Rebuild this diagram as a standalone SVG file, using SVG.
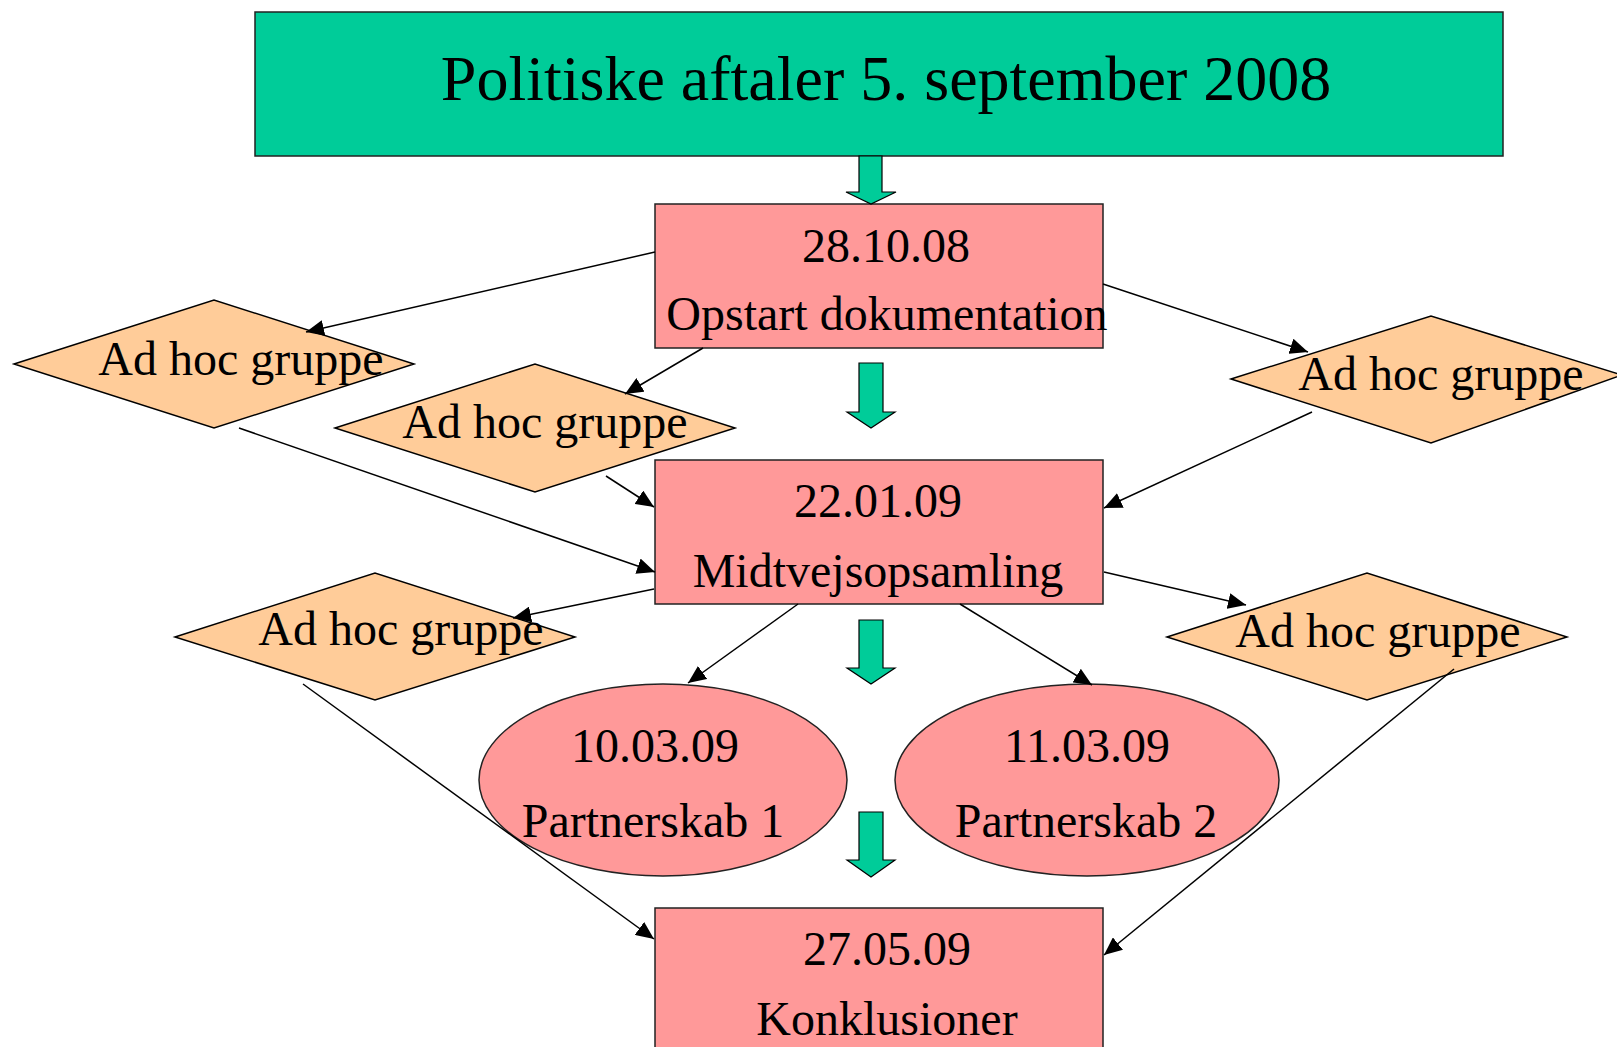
<svg xmlns="http://www.w3.org/2000/svg" width="1617" height="1047" viewBox="0 0 1617 1047">
<style>
.bg{fill:#ffffff}
.title{fill:#00CC99;stroke:#222;stroke-width:1.5}
.box{fill:#FF9999;stroke:#222;stroke-width:1.5}
.dia{fill:#FFCC99;stroke:#000;stroke-width:1.5}
.blk{fill:#00CC99;stroke:#000;stroke-width:1.2}
.ln{stroke:#000;stroke-width:1.5;fill:none}
text{font-family:"Liberation Serif","Times New Roman",serif;fill:#000;text-anchor:middle;font-size:48px}
.tt{font-size:64px}
</style>
<defs>
<marker id="ah" markerUnits="userSpaceOnUse" markerWidth="18" markerHeight="16" viewBox="0 0 18 16" refX="18" refY="8" orient="auto">
<path d="M0,0 L18,8 L0,16 z" fill="#000"/>
</marker>
</defs>
<rect class="bg" x="0" y="0" width="1617" height="1047"/>
<g id="title">
<rect class="title" x="255" y="12" width="1248" height="144"/>
<text class="tt" x="886" y="100">Politiske aftaler 5. september 2008</text>
</g>
<g id="n281008">
<rect class="box" x="655" y="204" width="448" height="144"/>
<text x="886" y="262">28.10.08</text>
<text x="887" y="330">Opstart dokumentation</text>
</g>
<g id="n220109">
<rect class="box" x="655" y="460" width="448" height="144"/>
<text x="878" y="517">22.01.09</text>
<text x="878" y="587">Midtvejsopsamling</text>
</g>
<g id="n270509">
<rect class="box" x="655" y="908" width="448" height="150"/>
<text x="887" y="965">27.05.09</text>
<text x="887" y="1035">Konklusioner</text>
</g>
<g id="p1">
<ellipse class="box" cx="663" cy="780" rx="184" ry="96"/>
<text x="655" y="762">10.03.09</text>
<text x="653" y="837">Partnerskab 1</text>
</g>
<g id="p2">
<ellipse class="box" cx="1087" cy="780" rx="192" ry="96"/>
<text x="1087" y="762">11.03.09</text>
<text x="1086" y="837">Partnerskab 2</text>
</g>
<g id="d1">
<polygon class="dia" points="14,364 214,300 414,364 214,428"/>
<text x="241" y="375">Ad hoc gruppe</text>
</g>
<g id="d2">
<polygon class="dia" points="335,428 535,364 735,428 535,492"/>
<text x="545" y="438">Ad hoc gruppe</text>
</g>
<g id="d3">
<polygon class="dia" points="1231,379 1431,316 1622,375 1431,443"/>
<text x="1441" y="390">Ad hoc gruppe</text>
</g>
<g id="d4">
<polygon class="dia" points="175,637 375,573 575,637 375,700"/>
<text x="401" y="645">Ad hoc gruppe</text>
</g>
<g id="d5">
<polygon class="dia" points="1167,637 1367,573 1567,637 1367,700"/>
<text x="1378" y="647">Ad hoc gruppe</text>
</g>
<g id="connectors">
<polygon class="blk" points="859,156 882,156 882,192 896,192 871,204 846,192 859,192"/>
<polygon class="blk" points="859,363 883,363 883,412 895,412 871,428 847,412 859,412"/>
<polygon class="blk" points="859,620 883,620 883,668 895,668 871,684 847,668 859,668"/>
<polygon class="blk" points="859,812 883,812 883,860 895,860 871,877 847,860 859,860"/>
<line class="ln" x1="655" y1="252" x2="306" y2="332" marker-end="url(#ah)"/>
<line class="ln" x1="703" y1="348" x2="625" y2="394" marker-end="url(#ah)"/>
<line class="ln" x1="1103" y1="284" x2="1308" y2="352" marker-end="url(#ah)"/>
<line class="ln" x1="239" y1="428" x2="655" y2="572" marker-end="url(#ah)"/>
<line class="ln" x1="606" y1="476" x2="654" y2="507" marker-end="url(#ah)"/>
<line class="ln" x1="1312" y1="412" x2="1104" y2="508" marker-end="url(#ah)"/>
<line class="ln" x1="654" y1="589" x2="513" y2="618" marker-end="url(#ah)"/>
<line class="ln" x1="1104" y1="572" x2="1246" y2="605" marker-end="url(#ah)"/>
<line class="ln" x1="798" y1="604" x2="688" y2="683" marker-end="url(#ah)"/>
<line class="ln" x1="960" y1="604" x2="1092" y2="685" marker-end="url(#ah)"/>
<line class="ln" x1="303" y1="684" x2="654" y2="939" marker-end="url(#ah)"/>
<line class="ln" x1="1454" y1="669" x2="1104" y2="955" marker-end="url(#ah)"/>
</g>
</svg>
